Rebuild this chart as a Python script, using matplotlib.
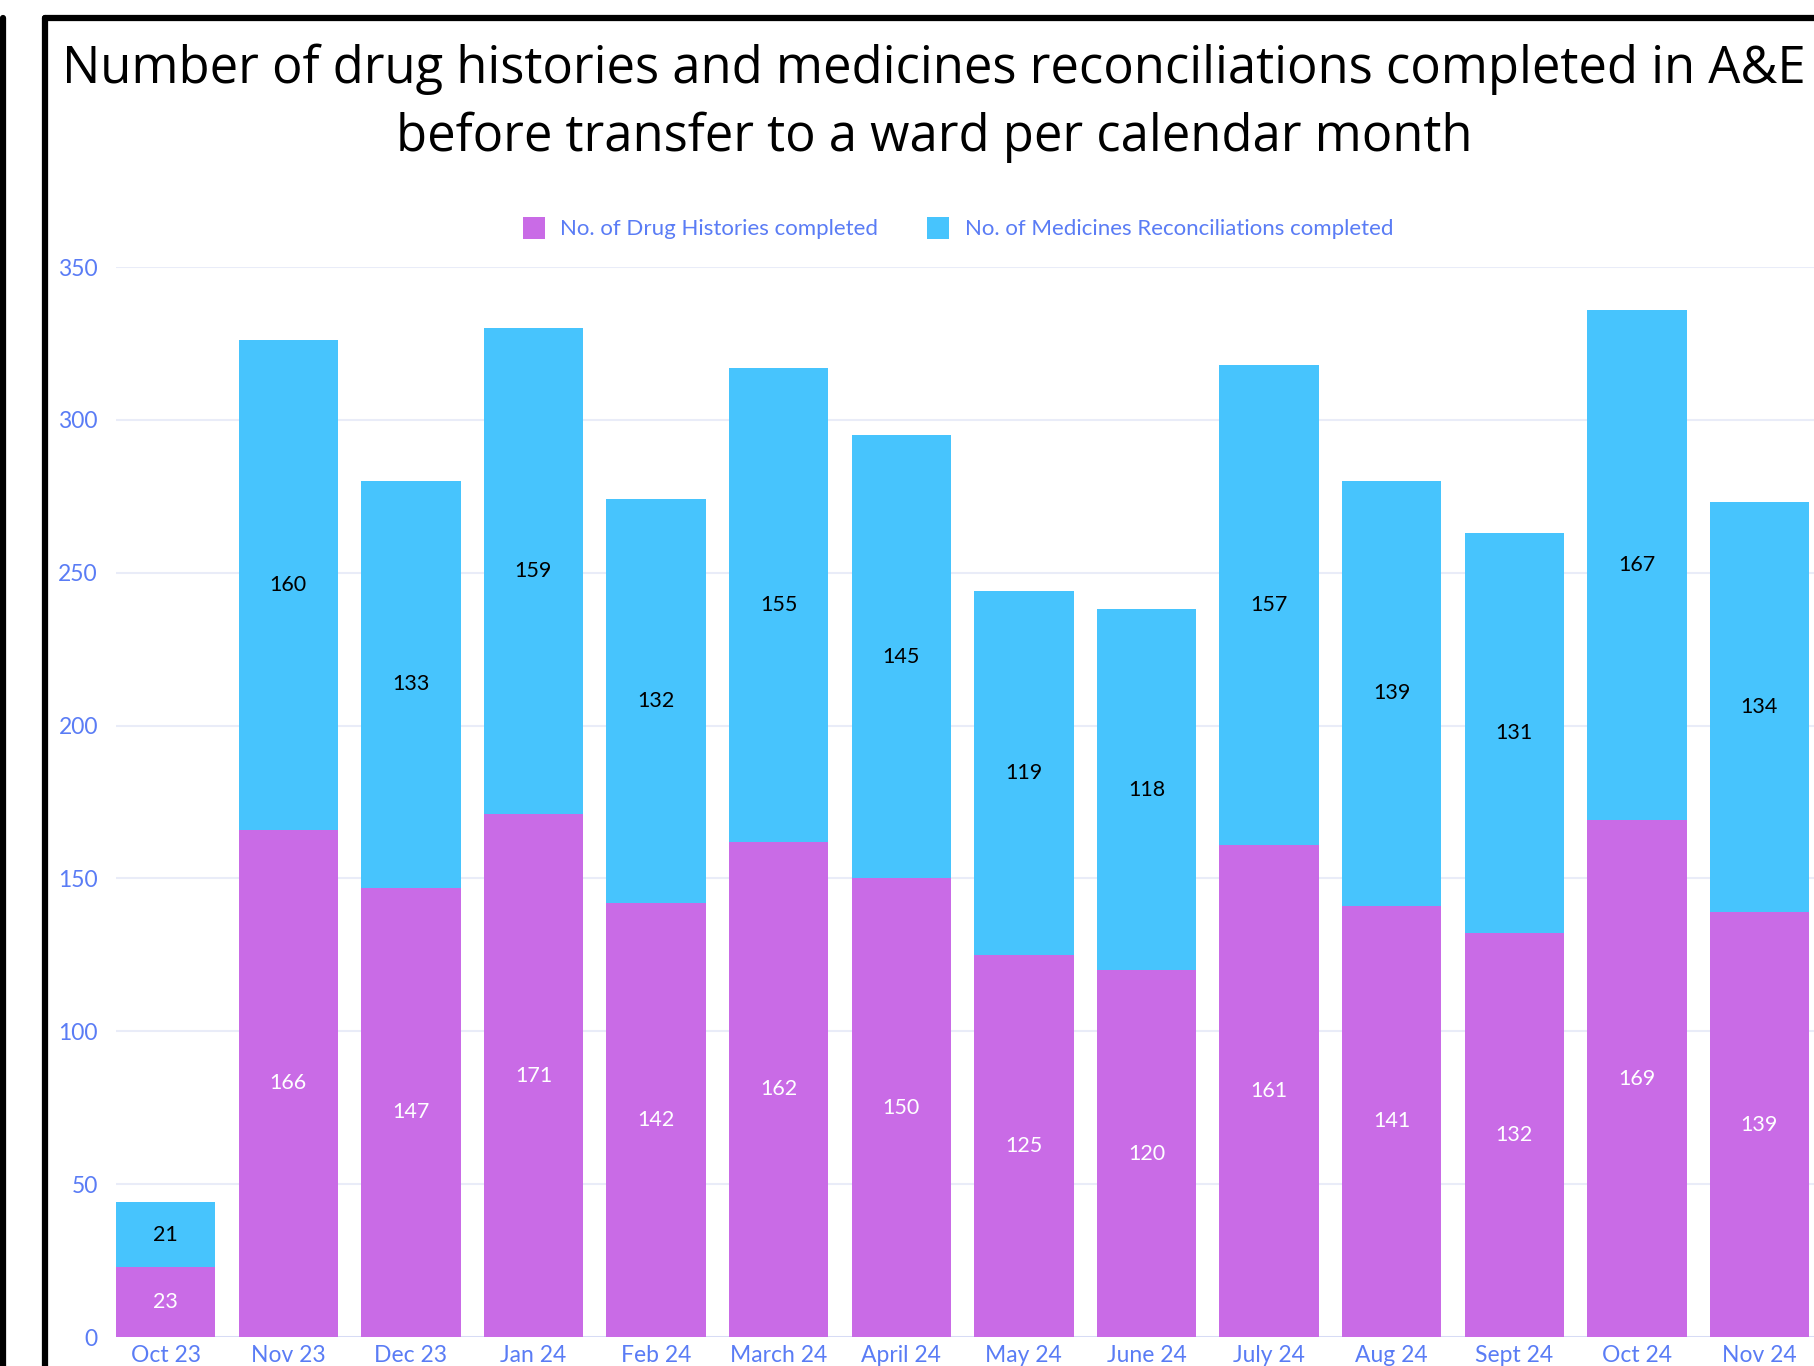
import matplotlib.pyplot as plt
from matplotlib.lines import Line2D
import numpy as np

# Dados
months = ["Oct 23", "Nov 23", "Dec 23", "Jan 24", "Feb 24", "March 24", "April 24",
          "May 24", "June 24", "July 24", "Aug 24", "Sept 24", "Oct 24", "Nov 24"]
drug_histories = [23, 166, 147, 171, 142, 162, 150, 125, 120, 161, 141, 132, 169, 139]
med_recs = [21, 160, 133, 159, 132, 155, 145, 119, 118, 157, 139, 131, 167, 134]

title = ("Number of drug histories and medicines reconciliations completed in A&E\n"
         "before transfer to a ward per calendar month")
label_dh = "No. of Drug Histories completed"
label_mr = "No. of Medicines Reconciliations completed"

# Cores
magenta = "#C96BE6"
azul = "#47C4FD"
texto_eixo = "#5A7CF5"
grade = "#E9ECF8"

W, H = 1815, 1366
fig = plt.figure(figsize=(W / 100, H / 100), dpi=100)
ax = fig.add_axes([116 / W, 29 / H, 1 - 116 / W, (1337 - 267) / H])

x = np.arange(len(months))
largura = 0.81
b1 = ax.bar(x, drug_histories, largura, color=magenta, label=label_dh, zorder=3)
b2 = ax.bar(x, med_recs, largura, bottom=drug_histories, color=azul, label=label_mr, zorder=3)

# Rótulos dentro das barras
for i in range(len(months)):
    ax.text(x[i], drug_histories[i] / 2, str(drug_histories[i]), ha="center", va="center",
            color="white", fontsize=15.5, family="Lato", zorder=4)
    ax.text(x[i], drug_histories[i] + med_recs[i] / 2, str(med_recs[i]), ha="center", va="center",
            color="black", fontsize=15.5, family="Lato", zorder=4)

ax.set_xlim(-0.405, -0.405 + (W - 116) / 122.6)
ax.set_ylim(0, 350)
ax.set_yticks(range(0, 351, 50))
ax.set_xticks(x)
ax.set_xticklabels(months)
ax.grid(axis="y", color=grade, linewidth=1.5, zorder=0)
ax.axhline(0, color="#D5DAF5", linewidth=2, zorder=2)
for s in ax.spines.values():
    s.set_visible(False)
ax.tick_params(length=0, colors=texto_eixo, labelsize=16.5)
ax.tick_params(axis="y", pad=13)
ax.tick_params(axis="x", pad=6)
for t in ax.get_xticklabels() + ax.get_yticklabels():
    t.set_family("Lato")

fig.text(934 / W, 1 - 103 / H, title, ha="center", va="center", fontsize=36.55,
         family="Open Sans", linespacing=1.41)

fig.legend(handles=[b1, b2], labels=[label_dh, label_mr], loc="center",
           bbox_to_anchor=(958 / W, 1 - 228 / H), ncol=2, frameon=False,
           handlelength=1.0, handleheight=1.2, handletextpad=0.7, columnspacing=2.2,
           prop={"family": "Lato", "size": 16}, labelcolor=texto_eixo)

# Moldura preta
fig.add_artist(Line2D([45 / W, 45 / W], [0, 1 - 18 / H], color="black", lw=4.5,
                      transform=fig.transFigure, solid_capstyle="round"))
fig.add_artist(Line2D([45 / W, 1], [1 - 18 / H, 1 - 18 / H], color="black", lw=4.5,
                      transform=fig.transFigure, solid_capstyle="round"))
fig.add_artist(Line2D([3 / W, 3 / W], [0, 1 - 18 / H], color="black", lw=4.5,
                      transform=fig.transFigure, solid_capstyle="round"))

fig.savefig("out.png", dpi=100)
